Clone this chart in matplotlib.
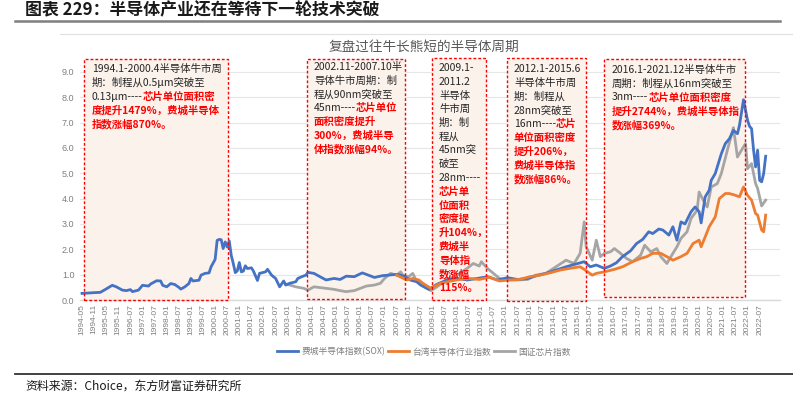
import matplotlib
matplotlib.use('Agg')
import matplotlib.pyplot as plt
import matplotlib.transforms as mtransforms
from matplotlib.patches import Rectangle
from matplotlib.lines import Line2D

plt.rcParams['font.family'] = ['Noto Sans CJK SC', 'DejaVu Sans']

# ---------------- data ----------------
# x = position on the monthly category axis (0 = 1994-05, one step per month)
tick_labels = ['1994-05', '1994-11', '1995-05', '1995-11', '1996-07', '1997-01', '1997-07',
               '1998-01', '1998-07', '1999-01', '1999-07', '2000-01', '2000-07', '2001-01',
               '2001-07', '2002-01', '2002-07', '2003-01', '2003-07', '2004-01', '2004-07',
               '2005-01', '2005-07', '2006-01', '2006-07', '2007-01', '2007-07', '2008-01',
               '2008-07', '2009-01', '2009-07', '2010-01', '2010-07', '2011-01', '2011-07',
               '2012-01', '2012-07', '2013-01', '2013-07', '2014-01', '2014-07', '2015-01',
               '2015-07', '2016-01', '2016-07', '2017-01', '2017-07', '2018-01', '2018-07',
               '2019-01', '2019-07', '2020-01', '2020-07', '2021-01', '2021-07', '2022-01',
               '2022-07']

sox_t = [0, 6, 9, 11, 15, 17, 20, 22, 24, 25, 28, 30, 33, 34, 37, 39, 40, 42, 44, 46, 48, 49,
         51, 53, 54, 55, 58, 59, 61, 63, 64, 66, 67, 68, 69, 70, 71, 72, 73, 74, 75, 76, 77, 78,
         79, 80, 81, 82, 84, 85, 87, 88, 91, 92, 94, 96, 98, 100, 101, 103, 106, 107, 109, 111,
         112, 115, 118, 121, 125, 128, 131, 135, 139, 142, 145, 149, 152, 156, 158, 160, 163,
         166, 168, 172, 176, 181, 186, 191, 196, 201, 206, 211, 216, 221, 225, 230, 235, 240,
         245, 249, 252, 255, 259, 262, 265, 268, 272, 275, 278, 281, 283, 286, 288, 291, 293,
         295, 297, 299, 302, 304, 306, 307, 309, 311, 312, 314, 316, 317, 319, 321, 323, 325,
         326, 328, 330, 331, 332, 333, 334, 335, 336, 337, 338, 339]
sox_v = [0.26, 0.29, 0.30, 0.39, 0.58, 0.52, 0.39, 0.37, 0.41, 0.33, 0.39, 0.58, 0.55, 0.63,
         0.76, 0.75, 0.58, 0.52, 0.65, 0.61, 0.50, 0.43, 0.52, 0.65, 0.85, 0.75, 0.78, 0.98,
         1.05, 1.07, 1.31, 1.60, 2.35, 2.39, 2.38, 2.03, 2.29, 2.09, 2.33, 1.76, 1.44, 1.08,
         1.15, 1.48, 1.11, 1.14, 1.35, 1.24, 1.27, 1.14, 0.77, 1.05, 1.11, 1.21, 0.98, 0.85,
         0.52, 0.75, 0.59, 0.66, 0.72, 0.85, 0.92, 0.98, 1.09, 1.05, 0.92, 0.79, 0.85, 0.81,
         0.94, 0.92, 1.07, 0.98, 0.89, 0.96, 0.98, 1.01, 0.98, 0.92, 0.78, 0.72, 0.59, 0.42,
         0.62, 0.79, 0.85, 0.79, 0.85, 0.92, 0.79, 0.88, 0.81, 0.85, 0.95, 1.05, 1.18, 1.31,
         1.42, 1.51, 1.31, 1.38, 1.25, 1.34, 1.47, 1.71, 1.94, 2.23, 2.39, 2.69, 2.62, 2.80,
         2.76, 2.56, 2.89, 2.36, 3.08, 3.00, 3.48, 3.67, 3.48, 3.04, 4.07, 4.33, 4.72, 4.99,
         5.51, 5.77, 6.17, 6.36, 6.69, 6.56, 6.89, 7.90, 7.09, 6.85, 6.76, 5.91, 5.25, 5.91,
         4.72, 4.66, 4.99, 5.67]

tw_t = [156, 161, 164, 167, 169, 173, 176, 178, 183, 187, 192, 197, 202, 207, 212, 217, 222,
        227, 232, 237, 242, 247, 249, 253, 255, 259, 264, 268, 273, 277, 280, 283, 287, 290,
        293, 297, 300, 303, 306, 307, 309, 311, 314, 316, 319, 321, 324, 326, 328, 330, 332,
        334, 335, 337, 338, 339]
tw_v = [0.98, 0.79, 0.85, 0.79, 0.66, 0.46, 0.59, 0.66, 0.75, 0.81, 0.85, 0.81, 0.90, 0.75,
        0.79, 0.81, 0.92, 0.98, 1.07, 1.18, 1.25, 1.31, 1.21, 0.98, 1.05, 1.11, 1.21, 1.31,
        1.51, 1.64, 1.71, 1.84, 1.84, 1.71, 1.57, 1.71, 1.84, 2.23, 2.36, 2.10, 2.49, 2.89,
        3.28, 4.00, 4.20, 4.20, 4.13, 4.07, 4.46, 4.13, 3.94, 3.41, 3.35, 2.76, 2.69, 3.35]

cn_t = [101, 103, 106, 110, 112, 115, 118, 121, 125, 128, 131, 135, 138, 141, 145, 148, 150,
        153, 156, 158, 159, 162, 164, 166, 168, 171, 173, 176, 181, 186, 191, 194, 197, 198,
        201, 204, 207, 211, 216, 221, 225, 230, 235, 240, 244, 247, 249, 250, 253, 255, 257,
        259, 262, 264, 267, 270, 273, 277, 279, 282, 285, 287, 290, 293, 295, 297, 300, 302,
        305, 306, 308, 310, 312, 315, 317, 320, 323, 325, 327, 329, 330, 332, 334, 335, 337,
        339]
cn_v = [0.63, 0.59, 0.52, 0.46, 0.39, 0.52, 0.49, 0.46, 0.42, 0.37, 0.33, 0.37, 0.46, 0.55,
        0.59, 0.66, 0.85, 1.05, 0.98, 1.11, 0.98, 0.92, 1.05, 0.72, 0.59, 0.46, 0.37, 0.52,
        0.81, 0.98, 1.25, 1.44, 1.34, 1.51, 1.25, 1.05, 0.85, 0.79, 0.79, 0.81, 0.98, 1.05,
        1.31, 1.57, 1.44, 1.84, 3.08, 2.10, 1.57, 2.36, 1.71, 1.84, 1.90, 2.03, 1.84, 1.64,
        1.51, 1.77, 2.16, 1.90, 2.03, 1.71, 1.44, 1.84, 2.10, 2.43, 2.69, 3.22, 3.54, 4.26,
        3.94, 3.67, 4.46, 4.59, 4.99, 5.91, 6.80, 5.64, 5.91, 6.17, 5.18, 5.38, 4.59, 4.40,
        3.71, 3.94]

series_names = ['费城半导体指数(SOX)', '台湾半导体行业指数', '国证芯片指数']
series_colors = ['#4472C4', '#ED7D31', '#A5A5A5']

# highlighted bull-market periods (positions on the category axis)
period_start = [1, 111.5, 173.5, 210.7, 258.8]
period_end = [72.4, 160.1, 200.3, 249.9, 328.7]

# ---------------- figure ----------------
W, H = 793, 399
fig = plt.figure(figsize=(W / 100, H / 100), dpi=100)


def fx(px):
    return px / W


def fy(py):
    return 1 - py / H


ax_top_px, ax_bot_px = 61.7, 300.0
ax = fig.add_axes([fx(80), fy(ax_bot_px), 700 / W, (ax_bot_px - ax_top_px) / H])
ax.set_xlim(-1, 346.1)
ax.set_ylim(0, 9.4)

ax.set_yticks(range(10))
ax.set_yticklabels([f'{v:.1f}' for v in range(10)], fontsize=6.5, color='#7F7F7F',
                   family=['Liberation Sans'])
ax.set_xticks(range(0, 6 * len(tick_labels), 6))
ax.set_xticklabels(tick_labels, rotation=90, fontsize=6, color='#7F7F7F',
                   family=['Liberation Sans'])
ax.tick_params(axis='both', length=0)
ax.tick_params(axis='y', pad=4)
ax.tick_params(axis='x', pad=3)
for s in ['top', 'right', 'left']:
    ax.spines[s].set_visible(False)
ax.spines['bottom'].set_color('#D9D9D9')
ax.spines['bottom'].set_linewidth(1.0)
ax.grid(axis='y', color='#E6E6E6', lw=0.8, zorder=0)
ax.set_axisbelow(True)

# period boxes
trans = mtransforms.blended_transform_factory(ax.transData, ax.transAxes)
box_top = [59, 59, 58, 58, 59]
box_bot = [300, 299, 300, 301, 297]


def yax(py):
    return (ax_bot_px - py) / (ax_bot_px - ax_top_px)


for s, e, tp, bt in zip(period_start, period_end, box_top, box_bot):
    r = Rectangle((s, yax(bt)), e - s, yax(tp) - yax(bt), transform=trans,
                  facecolor='#FCF2EC', edgecolor='none', zorder=1, clip_on=False)
    ax.add_patch(r)
    r2 = Rectangle((s, yax(bt)), e - s, yax(tp) - yax(bt), transform=trans,
                   facecolor='none', edgecolor='#FF0000', lw=1.0, ls=(0, (2, 1.5)),
                   zorder=4, clip_on=False)
    ax.add_patch(r2)

# lines
ax.plot(sox_t, sox_v, color=series_colors[0], lw=2.0, zorder=3, solid_joinstyle='round')
ax.plot(tw_t, tw_v, color=series_colors[1], lw=2.0, zorder=3, solid_joinstyle='round')
ax.plot(cn_t, cn_v, color=series_colors[2], lw=2.0, zorder=2.9, solid_joinstyle='round')

# box texts
K = '#262626'
R = '#FF0000'
box_texts = [
    (92, 69, [
        [("1994.1-2000.4半导体牛市周", K)],
        [("期：制程从0.5μm突破至", K)],
        [("0.13μm----", K), ("芯片单位面积密", R)],
        [("度提升1479%，费城半导体", R)],
        [("指数涨幅870%。", R)],
    ]),
    (314, 67, [
        [("2002.11-2007.10半", K)],
        [("导体牛市周期：制", K)],
        [("程从90nm突破至", K)],
        [("45nm----", K), ("芯片单位", R)],
        [("面积密度提升", R)],
        [("300%，费城半导", R)],
        [("体指数涨幅94%。", R)],
    ]),
    (439, 68, [
        [("2009.1-", K)], [("2011.2", K)], [("半导体", K)], [("牛市周", K)],
        [("期：制", K)], [("程从", K)], [("45nm突", K)], [("破至", K)],
        [("28nm----", K)], [("芯片单", R)], [("位面积", R)], [("密度提", R)],
        [("升104%，", R)], [("费城半", R)], [("导体指", R)], [("数涨幅", R)],
        [("115%。", R)],
    ]),
    (514, 69, [
        [("2012.1-2015.6", K)],
        [("半导体牛市周", K)],
        [("期：制程从", K)],
        [("28nm突破至", K)],
        [("16nm----", K), ("芯片", R)],
        [("单位面积密度", R)],
        [("提升206%，", R)],
        [("费城半导体指", R)],
        [("数涨幅86%。", R)],
    ]),
    (612, 70, [
        [("2016.1-2021.12半导体牛市", K)],
        [("周期：制程从16nm突破至", K)],
        [("3nm----", K), ("芯片单位面积密度", R)],
        [("提升2744%，费城半导体指", R)],
        [("数涨幅369%。", R)],
    ]),
]
LINE = 13.75
FS = 7.5
for x0, y0, lines in box_texts:
    for k, segs in enumerate(lines):
        prev = None
        for txt, col in segs:
            weight = 'bold' if col == R else 'normal'
            if prev is None:
                prev = fig.text(fx(x0), fy(y0 + k * LINE), txt, color=col, fontsize=FS,
                                fontweight=weight, va='center', ha='left', zorder=6)
            else:
                prev = ax.annotate(txt, xy=(1, 0.5), xycoords=prev, color=col, fontsize=FS,
                                   fontweight=weight, va='center', ha='left', zorder=6,
                                   annotation_clip=False)

# chart title
fig.text(fx(424), fy(47), '复盘过往牛长熊短的半导体周期', fontsize=9.8, color='#595959',
         ha='center', va='center')

# legend
handles = [Line2D([], [], color=c, lw=2.0) for c in series_colors]
fig.legend(handles, series_names, loc='center', bbox_to_anchor=(fx(424), fy(352)), ncol=3,
           frameon=False, fontsize=6.3, handlelength=2.4, handletextpad=0.4, columnspacing=0.3,
           labelcolor='#7F7F7F')

# header and footer
fig.text(fx(25), fy(10.5), '图表 229：半导体产业还在等待下一轮技术突破', fontsize=12.2,
         fontweight='bold', color='#1A1A1A', ha='left', va='center')
fig.add_artist(Line2D([fx(15), fx(780)], [fy(21), fy(21)], color='#7F7F7F', lw=1.8))
fig.add_artist(Line2D([fx(60), fx(793)], [fy(34), fy(34)], color='#E0E0E0', lw=0.8))
fig.add_artist(Line2D([fx(15), fx(793)], [fy(374), fy(374)], color='#333333', lw=1.3))
fig.text(fx(25), fy(386), '资料来源：Choice，东方财富证券研究所', fontsize=8.6, color='#1A1A1A',
         ha='left', va='center')

fig.savefig('out.png', dpi=100)
